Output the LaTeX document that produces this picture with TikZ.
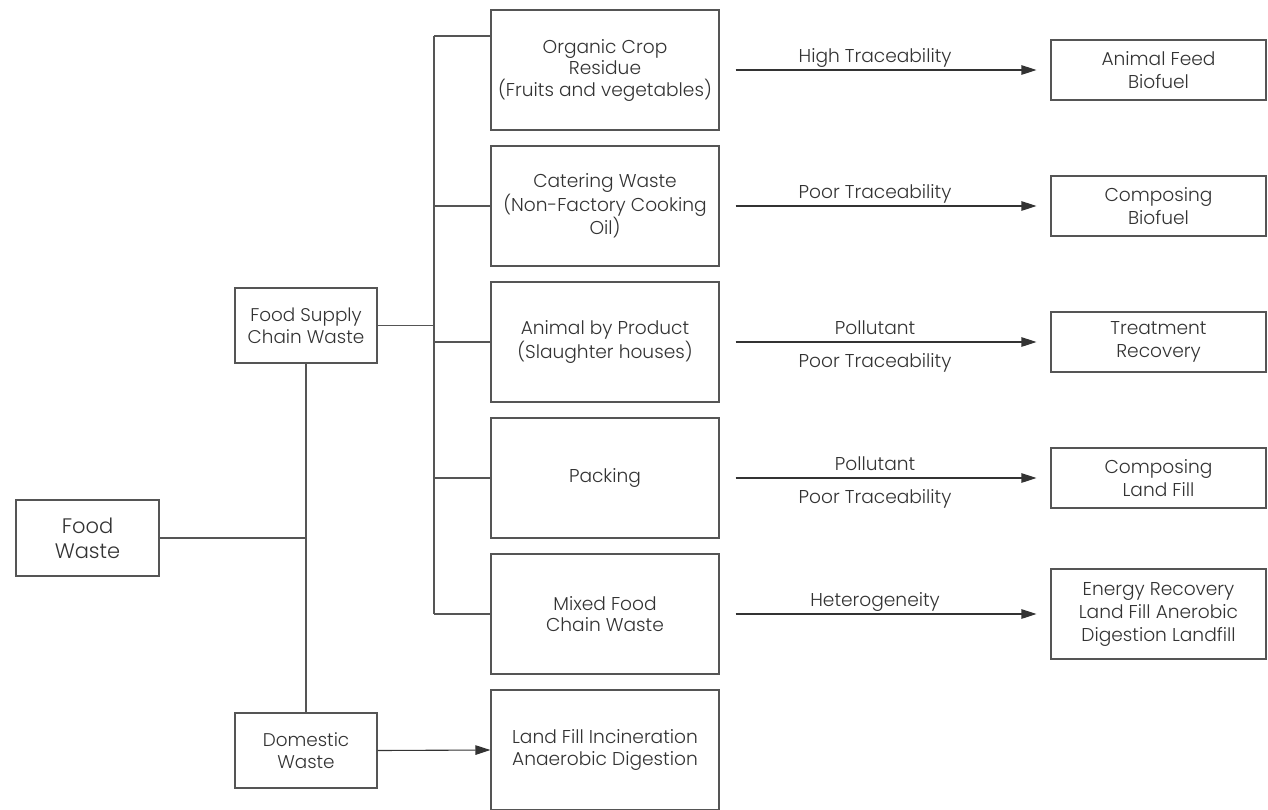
\documentclass[tikz,border=0pt]{standalone}
\usepackage{fontspec}
\setmainfont{Poppins Light}
\usetikzlibrary{arrows.meta}
\definecolor{linec}{HTML}{555555}
\definecolor{arrc}{HTML}{333333}
\definecolor{textc}{HTML}{333333}
\tikzset{
  box/.style={draw=linec, line width=1.1pt, inner sep=0pt, align=center, text=textc,
    font=\fontsize{18.6}{21.5}\selectfont},
  midbox/.style={box, minimum width=228pt, minimum height=120pt},
  rbox/.style={box, minimum width=215pt, minimum height=60pt, font=\fontsize{18.6}{23}\selectfont},
  lbox/.style={box, minimum width=142pt, minimum height=75pt, font=\fontsize{18.4}{22}\selectfont},
  conn/.style={draw=linec, line width=1.1pt},
  arr/.style={draw=arrc, line width=1.1pt, -{Triangle[length=15pt,width=9.5pt]}},
  lbl/.style={text=textc, font=\fontsize{18.6}{22}\selectfont, inner sep=0pt, anchor=base},
  lblup/.style={lbl, yshift=8pt},
  lbldn/.style={lbl, yshift=-25pt},
}
\begin{document}
\begin{tikzpicture}[x=1pt,y=-1pt]
\useasboundingbox (0,0) rectangle (1268,809);
\clip (0,0) rectangle (1268,809);
\fill[white] (0,0) rectangle (1268,809);

% left boxes
\node[box, minimum width=143pt, minimum height=76pt, font=\fontsize{21}{25}\selectfont] (fw) at (87.5,538) {Food\\Waste};
\node[lbox] (fscw) at (306,325.5) {Food Supply\\Chain Waste};
\node[lbox] (dom) at (306,750.5) {Domestic\\Waste};

% middle boxes
\node[midbox] (m1) at (605,70) {Organic Crop\\Residue\\(Fruits and vegetables)};
\node[midbox] (m2) at (605,206) {Catering Waste\\(Non-Factory Cooking\\Oil)};
\node[midbox] (m3) at (605,342) {Animal by Product\\(Slaughter houses)};
\node[midbox] (m4) at (605,478) {Packing};
\node[midbox] (m5) at (605,614) {Mixed Food\\Chain Waste};
\node[midbox] (m6) at (605,750) {Land Fill Incineration\\Anaerobic Digestion};

% right boxes
\node[rbox] (r1) at (1158.5,70) {Animal Feed\\Biofuel};
\node[rbox] (r2) at (1158.5,206) {Composing\\Biofuel};
\node[rbox] (r3) at (1158.5,342) {Treatment\\Recovery};
\node[rbox] (r4) at (1158.5,478) {Composing\\Land Fill};
\node[rbox, minimum height=90pt] (r5) at (1158.5,614) {Energy Recovery\\Land Fill Anerobic\\Digestion Landfill};

% left tree
\coordinate (j0) at (306,538);
\draw[conn] (fw.east) -- (j0);
\draw[conn] (fscw.south) -- (dom.north);

% bus
\coordinate (b1) at (434,36);
\coordinate (b2) at (434,206);
\coordinate (b3) at (434,342);
\coordinate (b4) at (434,478);
\coordinate (b5) at (434,614);
\coordinate (bf) at (434,325.5);
\draw[conn] (b1) -- (b5);
\draw[conn] (fscw.east) -- (bf);
\draw[conn] (b1) -- (b1 -| m1.west);
\draw[conn] (b2) -- (m2.west);
\draw[conn] (b3) -- (m3.west);
\draw[conn] (b4) -- (m4.west);
\draw[conn] (b5) -- (m5.west);

% arrows
\draw[arr, shorten <=16pt, shorten >=14pt] (m1.east) -- node[pos=0.47, lblup] {High Traceability} (r1.west);
\draw[arr, shorten <=16pt, shorten >=14pt] (m2.east) -- node[pos=0.47, lblup] {Poor Traceability} (r2.west);
\draw[arr, shorten <=16pt, shorten >=14pt] (m3.east) -- node[pos=0.47, lblup] {Pollutant} node[pos=0.47, lbldn] {Poor Traceability} (r3.west);
\draw[arr, shorten <=16pt, shorten >=14pt] (m4.east) -- node[pos=0.47, lblup] {Pollutant} node[pos=0.47, lbldn] {Poor Traceability} (r4.west);
\draw[arr, shorten <=16pt, shorten >=14pt] (m5.east) -- node[pos=0.47, lblup] {Heterogeneity} (r5.west);
\draw[arr] (dom.east) -- (m6.west);
\end{tikzpicture}
\end{document}
